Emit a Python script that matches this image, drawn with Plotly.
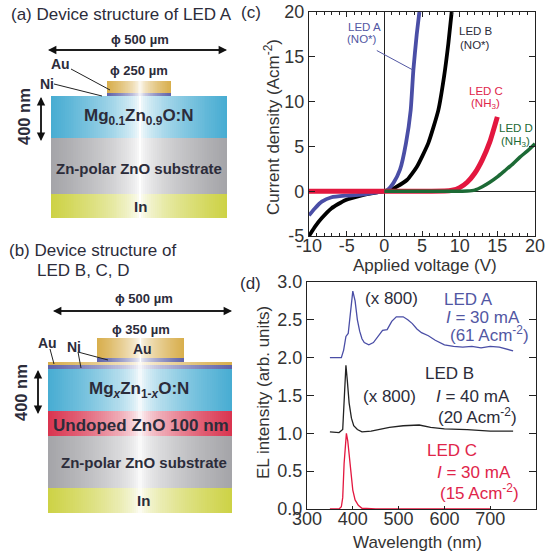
import plotly.graph_objects as go
import numpy as np

# ---------- data: panel (c) current density vs applied voltage ----------
a_v = [-10, -9.2, -8.3, -7, -5.2, -3, -0.8, 0, 0.5, 1.2, 2.08, 2.88, 3.5, 3.85, 4.3, 4.65]
a_j = [-2.7, -1.9, -1.17, -0.68, -0.5, -0.38, -0.1, 0, 0.2, 0.9, 2.4, 5.4, 9.05, 13.5, 17.5, 20]
b_v = [-10, -9.2, -8.3, -7, -5.2, -3, -0.8, 0, 0.8, 1.65, 3, 4.3, 5.85, 7.17, 7.93, 8.5, 8.94]
b_j = [-5, -3.95, -3, -1.9, -1, -0.46, -0.1, 0, 0.12, 0.5, 1.25, 2.7, 5.4, 9.05, 12.8, 16.5, 20]
c_v = [-10, -5, 0, 5, 8, 9, 10, 11, 12, 13, 14, 15]
c_j = [0, 0, 0, 0, 0.01, 0.1, 0.4, 1, 2, 3.5, 5.5, 8.3]
d_v = [0, 5, 10, 11, 12, 13, 14, 15, 16, 17, 18, 19, 20]
d_j = [0, 0, 0, 0.02, 0.12, 0.5, 1, 1.6, 2.3, 3, 3.8, 4.5, 5.3]

# ---------- data: panel (d) EL spectra ----------
sa_w = [350, 375, 380, 385, 390, 395, 400, 405, 410, 415, 420, 425, 435, 445, 455, 465, 475, 485, 495, 510, 520, 530, 540, 550, 565, 580, 600, 620, 640, 660, 680, 700, 720, 735, 750]
sa_i = [2.0, 2.0, 2.1, 2.28, 2.32, 2.6, 2.88, 2.75, 2.5, 2.35, 2.25, 2.2, 2.17, 2.2, 2.28, 2.36, 2.37, 2.48, 2.54, 2.54, 2.5, 2.45, 2.38, 2.33, 2.29, 2.23, 2.17, 2.15, 2.14, 2.15, 2.13, 2.15, 2.14, 2.11, 2.09]
sb_w = [350, 370, 378, 382, 385, 388, 392, 397, 402, 410, 420, 440, 460, 480, 510, 545, 570, 600, 650, 700, 750]
sb_i = [1.02, 1.01, 1.05, 1.5, 1.9, 1.7, 1.4, 1.2, 1.1, 1.05, 1.02, 1.03, 1.06, 1.08, 1.1, 1.11, 1.08, 1.06, 1.05, 1.03, 1.03]
sc_w = [350, 370, 375, 378, 381, 384, 386, 389, 392, 396, 400, 405, 412, 420, 450, 700]
sc_i = [0, 0, 0.03, 0.15, 0.6, 0.95, 1, 0.9, 0.7, 0.45, 0.25, 0.12, 0.05, 0.01, 0, 0]

# ---------- device diagrams: x0, x1, y0, y1, edge colour ----------
layers = [
    (107, 171, 81, 93, "#d8ae4c"), (107, 171, 93, 96, "#5f62a8"),
    (51, 227, 96, 138, "#47acd2"), (51, 227, 138, 194, "#a4a4a8"), (51, 227, 194, 218, "#cdd245"),
    (97, 184, 338, 358, "#d8ae4c"), (97, 184, 358, 363, "#5f62a8"),
    (48, 232, 362, 365, "#d8ae4c"), (48, 232, 365, 369, "#5f62a8"),
    (48, 232, 369, 411, "#47acd2"), (48, 232, 411, 436, "#d9344f"),
    (48, 232, 436, 488, "#a4a4a8"), (48, 232, 488, 513, "#cdd245"),
]
glow_x = 140
leaders = [
    ([71, 110], [69, 90]), ([54, 102], [84, 96]),
    ([50, 54], [349, 364]), ([78, 81], [352, 368]), ([78, 108], [352, 360]),
]
arrows = [
    (48, 50, 227, 50), (227, 50, 48, 50), (41, 97, 41, 141), (41, 141, 41, 97),
    (53, 311, 232, 311), (232, 311, 53, 311), (38, 370, 38, 414), (38, 414, 38, 370),
]
# text, x, y, size, colour, angle
FS = "Liberation Sans, Arial, sans-serif"
NAVY = "#2c2c3a"
BLUE = "#5257a3"
RED = "#e0254a"
GREEN = "#1c6a35"
GREY = "#333333"
labels = [
    ("(a) Device structure of LED A", 121, 14, 17, NAVY, 0),
    ("<b>ϕ 500 µm</b>", 140, 39, 13, NAVY, 0),
    ("<b>ϕ 250 µm</b>", 139, 70, 13, NAVY, 0),
    ("<b>Au</b>", 60, 64, 14, NAVY, 0),
    ("<b>Ni</b>", 47, 84, 14, NAVY, 0),
    ("<b>400 nm</b>", 24, 117, 16.5, NAVY, -90),
    ("<b>Mg<sub>0.1</sub>Zn<sub>0.9</sub>O:N</b>", 139, 117, 17, NAVY, 0),
    ("<b>Zn-polar ZnO substrate</b>", 139, 168, 15, NAVY, 0),
    ("<b>In</b>", 140, 206, 15, NAVY, 0),
    ("(b) Device structure of", 92, 250, 17, NAVY, 0),
    ("LED B, C, D", 83, 270, 17, NAVY, 0),
    ("<b>ϕ 500 µm</b>", 144, 298, 13, NAVY, 0),
    ("<b>ϕ 350 µm</b>", 141, 329, 13, NAVY, 0),
    ("<b>Au</b>", 142, 349, 14, NAVY, 0),
    ("<b>Au</b>", 47, 343, 14, NAVY, 0),
    ("<b>Ni</b>", 74, 347, 14, NAVY, 0),
    ("<b>400 nm</b>", 21, 393, 16.5, NAVY, -90),
    ("<b>Mg<sub><i>x</i></sub>Zn<sub>1-<i>x</i></sub>O:N</b>", 139, 390, 17, NAVY, 0),
    ("<b>Undoped ZnO 100 nm</b>", 141, 425, 17, NAVY, 0),
    ("<b>Zn-polar ZnO substrate</b>", 144, 462, 15, NAVY, 0),
    ("<b>In</b>", 143, 500, 15, NAVY, 0),
    ("(c)", 251, 12, 17, NAVY, 0),
    ("LED A", 364, 27, 11.5, BLUE, 0),
    ("(NO*)", 362, 39, 11.5, BLUE, 0),
    ("LED B", 476, 31, 11.5, NAVY, 0),
    ("(NO*)", 475, 45, 11.5, NAVY, 0),
    ("LED C", 486, 91, 11.5, RED, 0),
    ("(NH<sub>3</sub>)", 485, 104, 11.5, RED, 0),
    ("LED D", 516, 128, 11.5, GREEN, 0),
    ("(NH<sub>3</sub>)", 515, 142, 11.5, GREEN, 0),
    ("(d)", 250, 283, 17, NAVY, 0),
    ("(x 800)", 391, 298, 17, NAVY, 0),
    ("LED A", 468, 299, 17, BLUE, 0),
    ("<i>I</i> = 30 mA", 483, 317, 17, BLUE, 0),
    ("(61 Acm<sup>-2</sup>)", 489, 334, 17, BLUE, 0),
    ("LED B", 449, 373, 17, NAVY, 0),
    ("(x 800)", 389, 396, 17, NAVY, 0),
    ("<i>I</i> = 40 mA", 473, 396, 17, NAVY, 0),
    ("(20 Acm<sup>-2</sup>)", 477, 416, 17, NAVY, 0),
    ("LED C", 452, 450, 17, RED, 0),
    ("<i>I</i> = 30 mA", 474, 472, 17, RED, 0),
    ("(15 Acm<sup>-2</sup>)", 479, 492, 17, RED, 0),
    ("Current density (Acm<sup>-2</sup>)", 272, 127, 17, GREY, -90),
    ("Applied voltage (V)", 425, 265, 17, GREY, 0),
    ("EL intensity (arb. units)", 263, 393, 17, GREY, -90),
    ("Wavelength (nm)", 417, 542, 17, GREY, 0),
]
c_xticks = [-10, -5, 0, 5, 10, 15, 20]
c_yticks = [-5, 0, 5, 10, 15, 20]
d_xticks = [300, 400, 500, 600, 700, 800]
d_yticks = [0, 0.5, 1, 1.5, 2, 2.5, 3]

W, H = 549, 555
fig = go.Figure()

# Diagram layer: full-page pixel axes
for x0, x1, y0, y1, col in layers:
    xs = np.linspace(x0, x1, 91)
    mid = (xs[:-1] + xs[1:]) / 2
    t = np.clip(np.abs(mid - glow_x) / np.where(mid < glow_x, glow_x - x0, x1 - glow_x), 0, 1) ** 0.6
    fig.add_trace(go.Heatmap(
        x=xs, y=[y0, y1], z=[t], zmin=0, zmax=1, showscale=False, hoverinfo="skip",
        colorscale=[[0, "#ffffff"], [1, col]], xaxis="x", yaxis="y"))
for lx, ly in leaders:
    fig.add_trace(go.Scatter(x=lx, y=ly, mode="lines", line=dict(color="#222222", width=1),
                             xaxis="x", yaxis="y", showlegend=False))

# Panel c
for xs, ys, col, w in [(b_v, b_j, "#000000", 3.8), (a_v, a_j, "#4a4ea6", 3.8),
                       (c_v, c_j, "#e3173f", 5), (d_v, d_j, "#1c6a35", 3.5)]:
    fig.add_trace(go.Scatter(x=xs, y=ys, mode="lines", line=dict(color=col, width=w, shape="spline", smoothing=0.5),
                             xaxis="x2", yaxis="y2", showlegend=False))
fig.add_trace(go.Scatter(x=[-1, 3.85], y=[15.7, 13.5], mode="lines", line=dict(color="#5257a3", width=1),
                         xaxis="x2", yaxis="y2", showlegend=False))

# Panel d
for xs, ys, col in [(sc_w, sc_i, "#e3173f"), (sb_w, sb_i, "#222222"), (sa_w, sa_i, "#4a4ea6")]:
    fig.add_trace(go.Scatter(x=xs, y=ys, mode="lines", line=dict(color=col, width=1.3),
                             xaxis="x3", yaxis="y3", showlegend=False))

ann = []
for text, x, y, size, color, angle in labels:
    ann.append(dict(text=text, x=x, y=y, xref="x", yref="y", showarrow=False, xanchor="center", yanchor="middle",
                    textangle=angle, font=dict(family=FS, size=size, color=color)))
for x, y, ax, ay in arrows:
    ann.append(dict(text="", x=x, y=y, ax=ax, ay=ay, xref="x", yref="y", axref="x", ayref="y", showarrow=True,
                    arrowhead=2, arrowsize=1.2, arrowwidth=1.4, arrowcolor="#111111"))


def dom(a, b, total):
    return [a / total, b / total]


tick = dict(automargin=False, showline=True, linecolor="#222222", linewidth=1.2,
            tickcolor="#222222", showgrid=False, tickfont=dict(family=FS, size=18, color=GREY))
fig.update_layout(
    template="none",
    width=W, height=H, margin=dict(l=0, r=0, t=0, b=0), paper_bgcolor="white", plot_bgcolor="rgba(0,0,0,0)",
    showlegend=False, annotations=ann,
    xaxis=dict(domain=[0, 1], range=[0, W], visible=False, fixedrange=True, automargin=False),
    yaxis=dict(domain=[0, 1], range=[H, 0], visible=False, fixedrange=True, automargin=False),
    xaxis2=dict(domain=dom(309, 535, W), range=[-10, 20], tickvals=c_xticks, ticktext=[str(v) for v in c_xticks],
                mirror="allticks", ticks="inside", ticklen=5, ticklabelstandoff=-7,
                minor=dict(dtick=1, ticks="inside", ticklen=3, tickcolor="#222222"),
                zeroline=True, zerolinecolor="#222222", zerolinewidth=1.2, anchor="y2", **tick),
    yaxis2=dict(domain=dom(555 - 236, 555 - 12, H), range=[-5, 20], tickvals=c_yticks,
                ticktext=[str(v) for v in c_yticks], mirror="allticks", ticks="inside", ticklen=6,
                zeroline=True, zerolinecolor="#222222", zerolinewidth=1.2, anchor="x2", **tick),
    xaxis3=dict(domain=dom(307, 536, W), range=[300, 800], tickvals=d_xticks, mirror=True, ticks="inside", ticklen=3,
                ticklabelstandoff=-7, zeroline=False, anchor="y3", **tick),
    yaxis3=dict(domain=dom(555 - 509, 555 - 282, H), range=[0, 3], tickvals=d_yticks, mirror="allticks",
                tickformat=".1f", ticks="inside", ticklen=7, zeroline=False, anchor="x3", **tick),
)
fig.write_html("out.html", config={"displayModeBar": False}, post_script="document.body.style.margin='0';")
